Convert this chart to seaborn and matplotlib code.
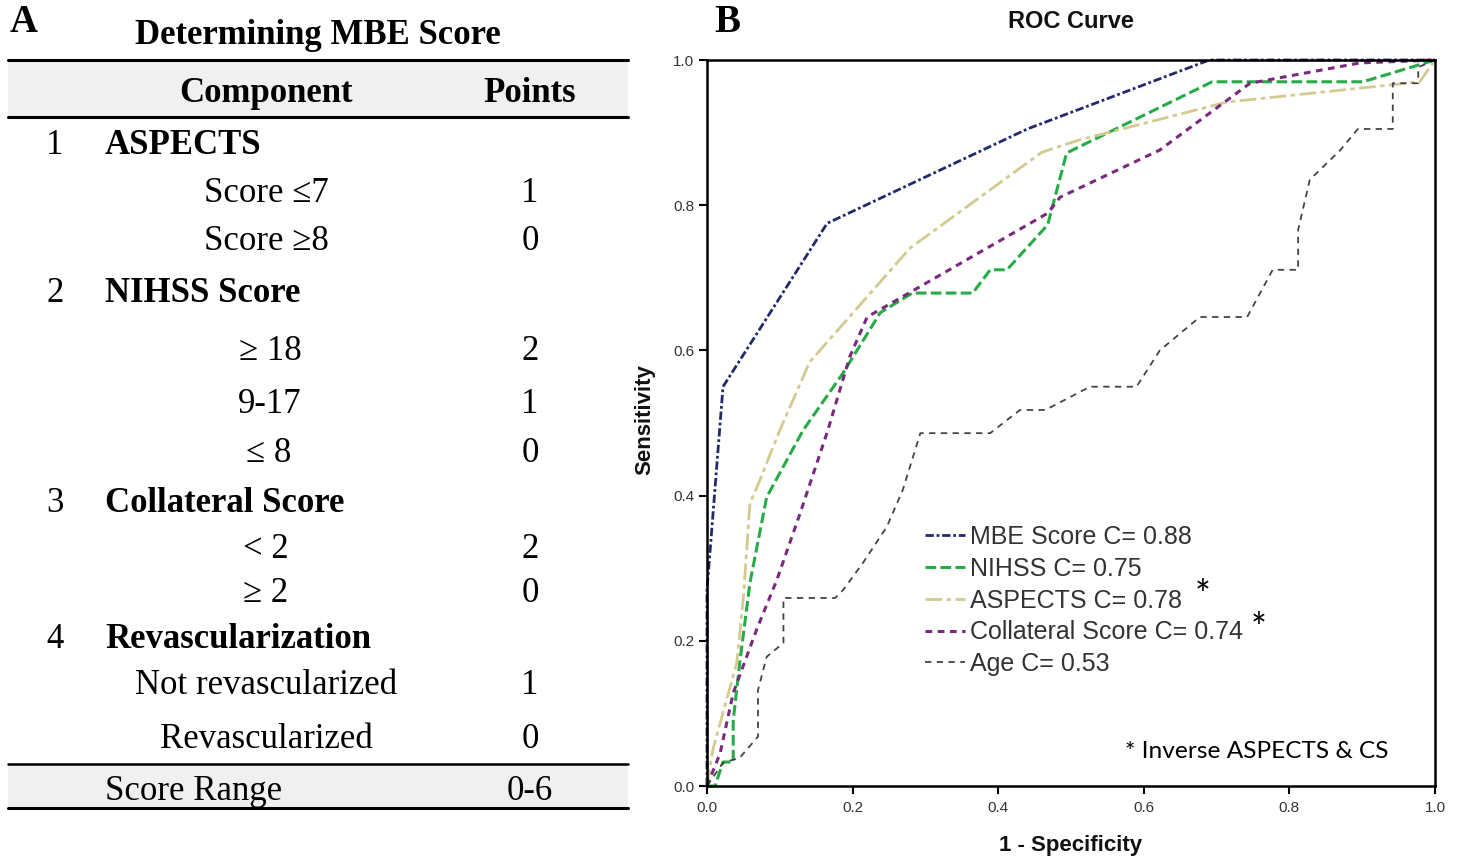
import matplotlib
matplotlib.use("Agg")
import matplotlib.pyplot as plt
import seaborn as sns
import pandas as pd
from matplotlib.lines import Line2D

# ---------------- data ----------------
table_numbers = ["1", "2", "3", "4"]
table_sections = ["ASPECTS", "NIHSS Score", "Collateral Score", "Revascularization"]
table_criteria = [["Score ≤7", "Score ≥8"],
                  ["≥ 18", "9-17", "≤ 8"],
                  ["< 2", "≥ 2"],
                  ["Not revascularized", "Revascularized"]]
table_points = [["1", "0"], ["2", "1", "0"], ["2", "0"], ["1", "0"]]
score_range = "0-6"

mbe_x = [0.0, 0.0, 0.022, 0.165, 0.44, 0.69, 1.0]
mbe_y = [0.0, 0.27, 0.55, 0.775, 0.905, 1.0, 1.0]

nihss_x = [0.0, 0.011, 0.022, 0.036, 0.036, 0.045, 0.059, 0.082, 0.132, 0.187, 0.238,
           0.282, 0.365, 0.389, 0.412, 0.468, 0.494, 0.694, 0.901, 1.0]
nihss_y = [0.0, 0.0, 0.033, 0.033, 0.09, 0.17, 0.28, 0.398, 0.49, 0.569, 0.652,
           0.679, 0.679, 0.711, 0.711, 0.773, 0.872, 0.97, 0.97, 1.0]

aspects_x = [0.0, 0.008, 0.041, 0.05, 0.059, 0.068, 0.1, 0.141, 0.279, 0.46, 0.512,
             0.714, 0.942, 0.979, 1.0]
aspects_y = [0.0, 0.05, 0.17, 0.26, 0.39, 0.41, 0.49, 0.584, 0.741, 0.873, 0.89,
             0.942, 0.966, 0.97, 1.0]

collat_x = [0.0, 0.018, 0.036, 0.068, 0.096, 0.128, 0.166, 0.196, 0.22, 0.279, 0.468,
            0.485, 0.622, 0.746, 0.897, 1.0]
collat_y = [0.0, 0.045, 0.128, 0.215, 0.284, 0.376, 0.49, 0.591, 0.646, 0.68, 0.789,
            0.811, 0.876, 0.968, 0.996, 1.0]

age_x = [0.0, 0.022, 0.045, 0.07, 0.07, 0.082, 0.105, 0.105, 0.176, 0.187, 0.214, 0.247,
         0.269, 0.293, 0.389, 0.43, 0.465, 0.526, 0.59, 0.622, 0.677, 0.742, 0.777, 0.812,
         0.812, 0.828, 0.87, 0.894, 0.942, 0.942, 0.977, 0.977, 1.0]
age_y = [0.0, 0.032, 0.039, 0.068, 0.132, 0.178, 0.197, 0.259, 0.259, 0.27, 0.307, 0.357,
         0.408, 0.486, 0.486, 0.518, 0.518, 0.55, 0.55, 0.6, 0.646, 0.646, 0.711, 0.711,
         0.766, 0.835, 0.876, 0.905, 0.905, 0.968, 0.968, 0.99, 1.0]

series_labels = ["MBE Score C= 0.88", "NIHSS C= 0.75", "ASPECTS C= 0.78",
                 "Collateral Score C= 0.74", "Age C= 0.53"]
series_x = [mbe_x, nihss_x, aspects_x, collat_x, age_x]
series_y = [mbe_y, nihss_y, aspects_y, collat_y, age_y]
series_colors = ["#222a6c", "#27ab47", "#d3ca8f", "#7a2a7e", "#444444"]
series_styles = [(0, (3, 1, 1, 1)), (0, (3.5, 1.4)), (0, (6, 1.6, 1.6, 1.6)),
                 (0, (2.2, 1.8)), (0, (3.5, 3))]
series_widths = [2.0, 2.2, 2.0, 2.2, 1.3]

# ---------------- figure ----------------
sns.set_theme(style="white")
plt.rcParams['font.family'] = ['Liberation Sans', 'DejaVu Sans']
plt.rcParams['text.color'] = 'black'

W, H = 1458, 857
fig = plt.figure(figsize=(W / 100, H / 100), dpi=100)
fig.patch.set_facecolor("white")


def P(x, y):
    return (x / W, 1 - y / H)


serif = ['Liberation Serif', 'DejaVu Serif']
FS = 25
DY = 4  # small baseline correction for serif text

# ---- Panel A : table ----
fig.text(*P(10, 23), "A", family=serif, fontsize=28, fontweight="bold", ha="left", va="center")
fig.text(*P(318, 33 + 3), "Determining MBE Score", family=serif, fontsize=FS, fontweight="bold",
         ha="center", va="center")

fig.patches.append(plt.Rectangle(P(8, 117), 620 / W, 57 / H, transform=fig.transFigure,
                                 facecolor="#f0f0f0", edgecolor="none", zorder=0))
fig.patches.append(plt.Rectangle(P(8, 808), 620 / W, 44 / H, transform=fig.transFigure,
                                 facecolor="#f0f0f0", edgecolor="none", zorder=0))
for yy, lw in [(60, 2.2), (117, 2.2), (764, 1.8), (808, 2.2)]:
    fig.add_artist(Line2D([8 / W, 628 / W], [1 - yy / H, 1 - yy / H], color="black", lw=lw,
                          transform=fig.transFigure))

fig.text(*P(266, 90 + DY), "Component", family=serif, fontsize=FS, fontweight="bold", ha="center", va="center")
fig.text(*P(530, 90 + DY), "Points", family=serif, fontsize=FS, fontweight="bold", ha="center", va="center")

section_y = [142, 290, 499, 636]
criteria_y = [[189, 238], [347, 400, 450], [545, 590], [681, 735]]
criteria_cx = [[266, 266], [270, 270, 269], [266, 266], [266, 266]]
for i in range(4):
    fig.text(*P(55, section_y[i] + DY), table_numbers[i], family=serif, fontsize=FS, ha="center", va="center")
    fig.text(*P(105, section_y[i] + DY), table_sections[i], family=serif, fontsize=FS, fontweight="bold",
             ha="left", va="center")
    for j, (crit, pts) in enumerate(zip(table_criteria[i], table_points[i])):
        fig.text(*P(criteria_cx[i][j], criteria_y[i][j] + DY), crit, family=serif, fontsize=FS,
                 ha="center", va="center")
        fig.text(*P(530, criteria_y[i][j] + DY), pts, family=serif, fontsize=FS, ha="center", va="center")

fig.text(*P(105, 788 + DY), "Score Range", family=serif, fontsize=FS, ha="left", va="center")
fig.text(*P(530, 788 + DY), score_range, family=serif, fontsize=FS, ha="center", va="center")

# ---- Panel B : ROC ----
fig.text(*P(714, 23), "B", family=serif, fontsize=28, fontweight="bold", ha="left", va="center")

ax = fig.add_axes([707 / W, 1 - 786 / H, 728 / W, 726 / H])
ax.set_facecolor("white")

for lab, xs, ys, col, ls, lw in zip(series_labels, series_x, series_y, series_colors,
                                     series_styles, series_widths):
    df = pd.DataFrame({"x": xs, "y": ys})
    sns.lineplot(data=df, x="x", y="y", ax=ax, sort=False, estimator=None, color=col,
                 linestyle=ls, linewidth=lw, label=lab, clip_on=False)

ax.set_xlim(0, 1)
ax.set_ylim(0, 1)
ax.set_xticks([0, 0.2, 0.4, 0.6, 0.8, 1.0])
ax.set_yticks([0, 0.2, 0.4, 0.6, 0.8, 1.0])
ax.set_xticklabels(["0.0", "0.2", "0.4", "0.6", "0.8", "1.0"])
ax.set_yticklabels(["0.0", "0.2", "0.4", "0.6", "0.8", "1.0"])
ax.tick_params(axis="both", which="major", direction="out", length=6, width=1.5, color="black",
               labelsize=11, labelcolor="#333333", bottom=True, left=True)
ax.tick_params(axis="x", pad=5)
ax.tick_params(axis="y", pad=3)
for s in ax.spines.values():
    s.set_visible(True)
    s.set_color("black")
    s.set_linewidth(1.8)

ax.set_xlabel("1 - Specificity", fontsize=16, fontweight="bold", color="#111111")
ax.set_ylabel("Sensitivity", fontsize=16, fontweight="bold", color="#111111")
ax.xaxis.set_label_coords(0.5, (786 - 845) / 726)
ax.xaxis.label.set_va("center")
ax.yaxis.set_label_coords((645 - 707) / 728, (786 - 420) / 726)
ax.yaxis.label.set_va("center")

ax.text(0.5, (786 - 21) / 726, "ROC Curve", transform=ax.transAxes, ha="center", va="center",
        fontsize=17, fontweight="bold", color="#111111")

leg = ax.legend(loc="upper left", bbox_to_anchor=((925 - 707) / 728, (786 - 525) / 726),
                frameon=False, fontsize=18, handlelength=1.6, handletextpad=0.18,
                labelspacing=0.31, borderpad=0, borderaxespad=0)
for t in leg.get_texts():
    t.set_color("#333333")

ax.text((1203 - 707) / 728, (786 - 597) / 726, "*", transform=ax.transAxes, ha="center",
        va="center", fontsize=27, family=['Lato', 'DejaVu Sans'], color="black")
ax.text((1259 - 707) / 728, (786 - 630) / 726, "*", transform=ax.transAxes, ha="center",
        va="center", fontsize=27, family=['Lato', 'DejaVu Sans'], color="black")
ax.text((1125 - 707) / 728, (786 - 751) / 726, "* Inverse ASPECTS & CS", transform=ax.transAxes,
        ha="left", va="center", fontsize=17.6, family=['Lato', 'DejaVu Sans'], color="black")

fig.savefig("out.png", dpi=100, facecolor="white")
